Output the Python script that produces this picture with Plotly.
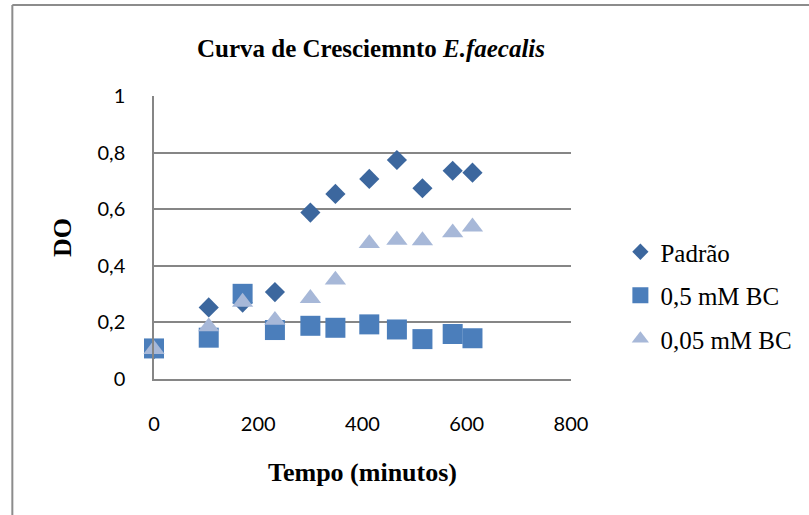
import plotly.graph_objects as go

# Growth curve readings (optical density over time)
tempo = [0, 105, 170, 232, 300, 348, 413, 466, 515, 573, 611]
padrao = [0.105, 0.253, 0.27, 0.307, 0.588, 0.654, 0.707, 0.774, 0.674, 0.736, 0.729]
bc_05 = [0.108, 0.146, 0.301, 0.173, 0.188, 0.181, 0.193, 0.175, 0.141, 0.159, 0.144]
bc_005 = [0.105, 0.185, 0.272, 0.208, 0.285, 0.35, 0.479, 0.491, 0.489, 0.517, 0.538]

series_names = ["Padrão", "0,5 mM BC", "0,05 mM BC"]
x_ticks = [0, 200, 400, 600, 800]
y_ticks = [0, 0.2, 0.4, 0.6, 0.8, 1]
y_tick_text = ["0", "0,2", "0,4", "0,6", "0,8", "1"]

W, H = 809, 515
L, R, T, B = 153.5, 237.5, 96, 136
PW, PH = W - L - R, H - T - B


def px(xp):
    return (xp - L) / PW


def py(yp):
    return (H - B - yp) / PH


styles = [
    dict(symbol="diamond", size=15.5, color="#3C679E", legend_size=12.5),
    dict(symbol="square", size=20, color="#4B7EBB", legend_size=16),
    dict(symbol="triangle-up", size=18.5, color="#A7B8D8", legend_size=15),
]

fig = go.Figure()
for name, values, st in zip(series_names, [padrao, bc_05, bc_005], styles):
    fig.add_trace(go.Scatter(
        x=tempo, y=values, mode="markers", name=name, legendgroup=name,
        showlegend=False, cliponaxis=False,
        marker=dict(symbol=st["symbol"], size=st["size"], color=st["color"]),
    ))
    # legend entry with its own symbol size
    fig.add_trace(go.Scatter(
        x=[None], y=[None], mode="markers", name=name, legendgroup=name,
        showlegend=True,
        marker=dict(symbol=st["symbol"], size=st["legend_size"], color=st["color"]),
    ))

axis_grey = "#868686"
fig.update_layout(
    width=W, height=H,
    margin=dict(l=L, r=R, t=T, b=B),
    paper_bgcolor="white", plot_bgcolor="white",
    title=dict(
        text="<b>Curva de Cresciemnto <i>E.faecalis</i></b>",
        font=dict(family="Liberation Serif", size=25, color="black"),
        xref="container", x=371 / W, xanchor="center",
        yref="container", y=1 - 48 / H, yanchor="middle",
    ),
    legend=dict(
        x=px(621), y=py(229), xanchor="left", yanchor="top",
        font=dict(family="Liberation Serif", size=25, color="black"),
        itemsizing="trace", tracegroupgap=8, itemwidth=30,
        bgcolor="rgba(0,0,0,0)",
    ),
    xaxis=dict(
        range=[0, 800], tickvals=x_ticks, ticktext=[str(v) for v in x_ticks],
        showgrid=False, zeroline=False,
        showline=True, linecolor=axis_grey, linewidth=1.5,
        ticks="", ticklabelstandoff=26,
        tickfont=dict(family="Lato", size=20, color="black"),
        title=dict(text="<b>Tempo (minutos)</b>", standoff=29,
                   font=dict(family="Liberation Serif", size=26, color="black")),
    ),
    yaxis=dict(
        range=[0, 1], tickvals=y_ticks, ticktext=y_tick_text,
        showgrid=True, gridcolor=axis_grey, gridwidth=1.5, zeroline=False,
        showline=True, linecolor=axis_grey, linewidth=1.5,
        ticks="", ticklabelstandoff=23,
        tickfont=dict(family="Lato", size=20, color="black"),
        title=dict(text="<b>DO</b>", standoff=18,
                   font=dict(family="Liberation Serif", size=26, color="black")),
    ),
)

# Outer chart frame (left and top edges)
fig.add_shape(type="line", xref="paper", yref="paper",
              x0=px(11.5), x1=px(11.5), y0=py(5), y1=py(H + 5),
              line=dict(color="#8C8C8C", width=2))
fig.add_shape(type="line", xref="paper", yref="paper",
              x0=px(11.5), x1=px(W + 5), y0=py(5), y1=py(5),
              line=dict(color="#8C8C8C", width=2))

fig.write_html("out.html")
